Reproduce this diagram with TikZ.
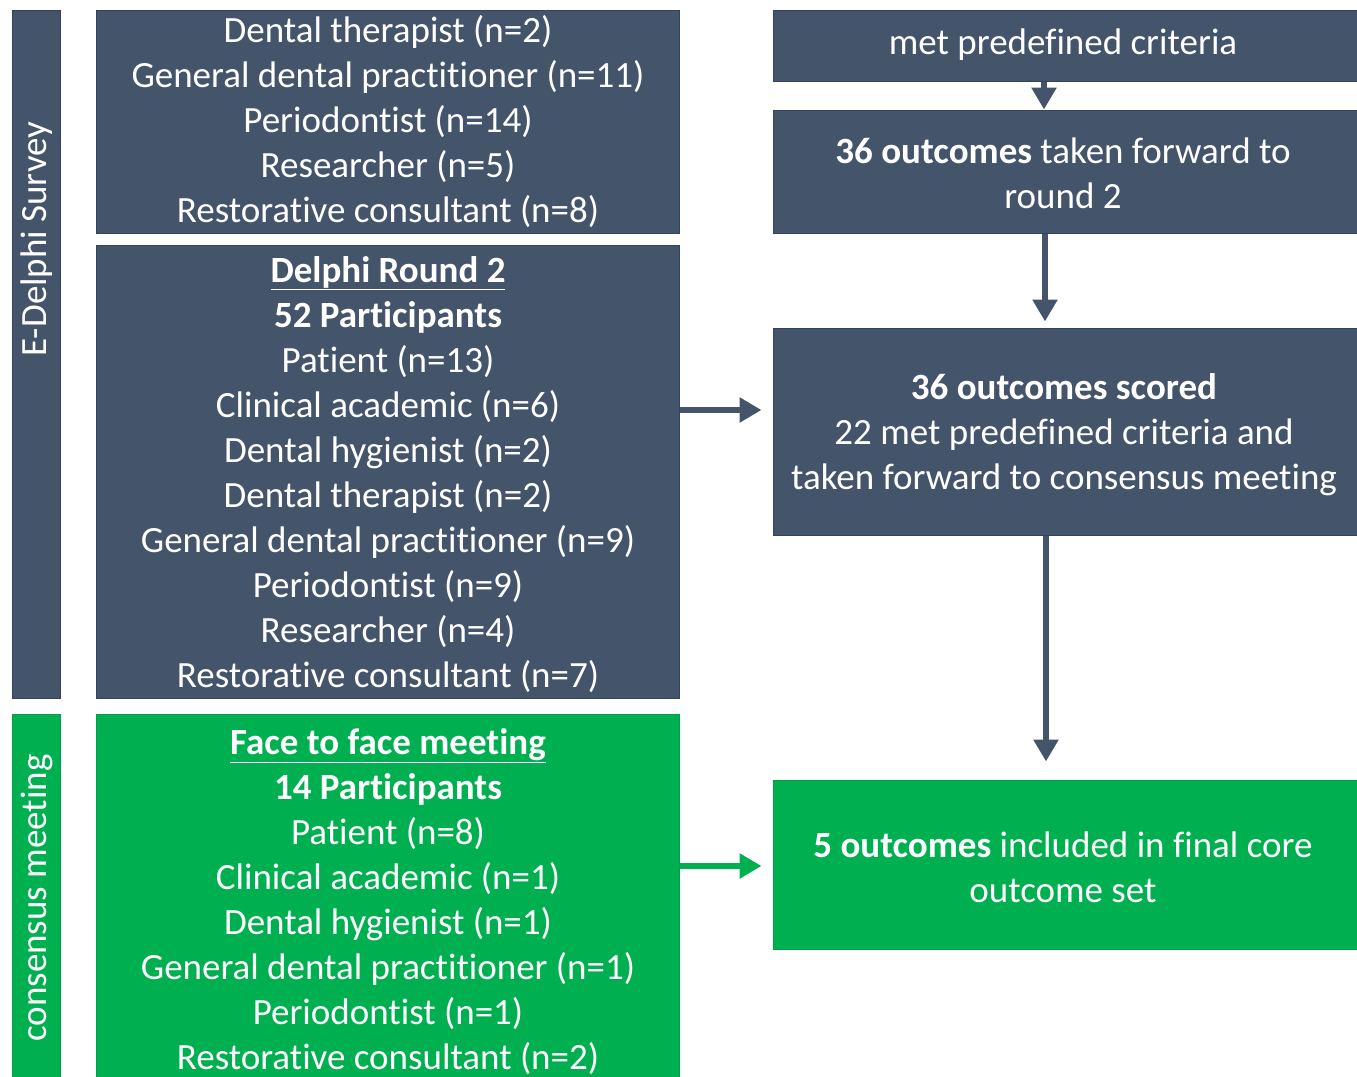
\documentclass[tikz,border=0pt]{standalone}
\usepackage{fontspec}
\setmainfont{Carlito}[Ligatures=NoCommon]
\usetikzlibrary{arrows.meta}
\definecolor{slate}{HTML}{44546A}
\definecolor{slateedge}{HTML}{34425A}
\definecolor{grn}{HTML}{00B050}
\definecolor{grnedge}{HTML}{00A04A}
\begin{document}
\begin{tikzpicture}[x=1pt,y=-1pt,
  txt/.style={inner sep=0pt, align=center, text=white, font=\fontsize{37}{45}\selectfont},
  box/.style={rectangle, inner sep=0pt, line width=1pt, txt},
  darkbox/.style={box, fill=slate, draw=slateedge},
  greenbox/.style={box, fill=grn, draw=grnedge},
  darr/.style={draw=slate, line width=6pt, -{Triangle[width=24pt,length=22pt]}},
  garr/.style={draw=grn, line width=6pt, -{Triangle[width=24pt,length=22pt]}}
]
\useasboundingbox (0,0) rectangle (1357,1076);
\clip (0,0) rectangle (1357,1076);

% side bars
\node[darkbox, minimum width=48pt, minimum height=688pt] (surveybar) at (36,354) {};
\node[txt, rotate=90] (surveylabel) at (37,239) {E-Delphi Survey};
\node[greenbox, minimum width=48pt, minimum height=376pt] (meetbar) at (36,902) {};
\node[txt, rotate=90] (meetlabel) at (37,898) {consensus meeting};

% left boxes
\node[darkbox, minimum width=583pt, minimum height=223pt] (round1) at (387.5,121.5) {};
\node[txt] (round1text) at (388,122)
 {Dental therapist (n=2)\\General dental practitioner (n=11)\\Periodontist (n=14)\\Researcher (n=5)\\Restorative consultant (n=8)};
\node[darkbox, minimum width=583pt, minimum height=453pt] (round2) at (387.5,471.5) {};
\node[txt] (round2text) at (388,474.5)
 {\textbf{\underline{Delphi Round 2}}\\\textbf{52 Participants}\\Patient (n=13)\\Clinical academic (n=6)\\Dental hygienist (n=2)\\Dental therapist (n=2)\\General dental practitioner (n=9)\\Periodontist (n=9)\\Researcher (n=4)\\Restorative consultant (n=7)};
\node[greenbox, minimum width=583pt, minimum height=376pt] (meeting) at (387.5,902) {};
\node[txt] (meetingtext) at (388,901.5)
 {\textbf{\underline{Face to face meeting}}\\\textbf{14 Participants}\\Patient (n=8)\\Clinical academic (n=1)\\Dental hygienist (n=1)\\General dental practitioner (n=1)\\Periodontist (n=1)\\Restorative consultant (n=2)};

% right boxes
\node[darkbox, minimum width=584pt, minimum height=71pt] (r1) at (1065,45.5) {};
\node[txt] (r1text) at (1063,45) {met predefined criteria};
\node[darkbox, minimum width=584pt, minimum height=123pt] (r2) at (1065,171.5) {};
\node[txt] (r2text) at (1063,173)
 {\textbf{36 outcomes} taken forward to\\round 2};
\node[darkbox, minimum width=584pt, minimum height=207pt] (r3) at (1065,431.5) {};
\node[txt] (r3text) at (1064,434.5)
 {\textbf{36 outcomes scored}\\22 met predefined criteria and\\taken forward to consensus meeting};
\node[greenbox, minimum width=584pt, minimum height=169pt] (r4) at (1065,864.5) {};
\node[txt] (r4text) at (1063,867)
 {\textbf{5 outcomes} included in final core\\outcome set};

% connectors
\coordinate (v1) at ([xshift=-21pt]r1.south);
\draw[darr] (v1) -- (v1 |- r2.north);
\coordinate (v2) at ([xshift=-20pt]r2.south);
\draw[darr, shorten >=6pt] (v2) -- (v2 |- r3.north);
\coordinate (v3) at ([xshift=-19pt]r3.south);
\draw[darr, shorten >=18pt] (v3) -- (v3 |- r4.north);
\coordinate (h1) at ([yshift=61.5pt]round2.east);
\draw[darr, shorten >=11pt] (h1) -- (h1 -| r3.west);
\coordinate (h2) at ([yshift=36pt]meeting.east);
\draw[garr, shorten >=11pt] (h2) -- (h2 -| r4.west);
\end{tikzpicture}
\end{document}
